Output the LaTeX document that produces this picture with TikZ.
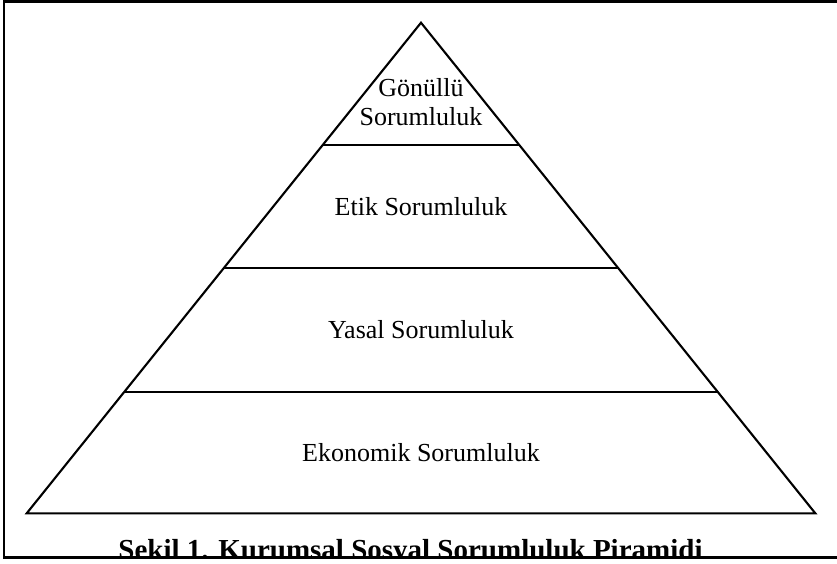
\documentclass[tikz,border=0pt]{standalone}
\usepackage{fontspec}
\setmainfont{Liberation Serif}
\usetikzlibrary{calc}
\tikzset{
  x=1pt, y=-1pt,
  frameline/.style={line width=2.3pt, black},
  pyrline/.style={line width=2.1pt, black, line join=miter},
  lbl/.style={anchor=base, inner sep=0pt, font=\fontsize{26}{28.3}\selectfont},
  captiontext/.style={anchor=base, inner sep=0pt, font=\fontsize{29}{32}\selectfont\bfseries}
}
\begin{document}
\begin{tikzpicture}
\useasboundingbox (0,0) rectangle (837,563);
% frame
\coordinate (ftr) at (837,1.5);
\coordinate (ftl) at (4,1.5);
\coordinate (fbl) at (4,557.5);
\coordinate (fbr) at (837,557.5);
% caption (its lower edge is hidden by the bottom line, as in the reference)
\begin{scope}
\clip (0,0) rectangle (837,557.5);
\node[captiontext] (caption) at (410.5,559) {Şekil 1. Kurumsal Sosyal Sorumluluk Piramidi};
\end{scope}
\draw[frameline] (ftr) -- (ftl) -- (fbl) -- (fbr);
% pyramid
\coordinate (apex) at (421,22.7);
\coordinate (bl) at (26.7,513.3);
\coordinate (br) at (815.3,513.3);
\draw[pyrline] (apex) -- (bl) -- (br) -- cycle;
\coordinate (l1) at ($(apex)!0.2493!(bl)$);
\coordinate (r1) at ($(apex)!0.2493!(br)$);
\coordinate (l2) at ($(apex)!0.5!(bl)$);
\coordinate (r2) at ($(apex)!0.5!(br)$);
\coordinate (l3) at ($(apex)!0.7528!(bl)$);
\coordinate (r3) at ($(apex)!0.7528!(br)$);
\draw[pyrline] (l1) -- (r1);
\draw[pyrline] (l2) -- (r2);
\draw[pyrline] (l3) -- (r3);
% labels
\node[lbl] (gon) at (421,96.7) {Gönüllü};
\node[lbl] (gons) at (421,125) {Sorumluluk};
\node[lbl] (etik) at (421,215) {Etik Sorumluluk};
\node[lbl] (yasal) at (421,338) {Yasal Sorumluluk};
\node[lbl] (eko) at (421,461.7) {Ekonomik Sorumluluk};
\end{tikzpicture}
\end{document}
